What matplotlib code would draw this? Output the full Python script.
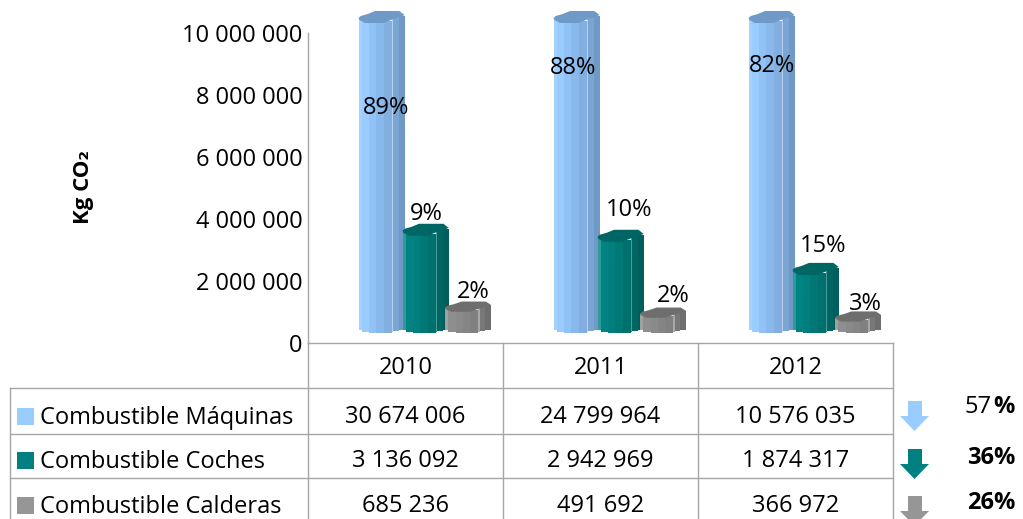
import numpy as np
import matplotlib
matplotlib.use("Agg")
import matplotlib.pyplot as plt
from matplotlib.patches import Polygon, Rectangle

plt.rcParams["font.family"] = ["Open Sans", "DejaVu Sans"]

years = ["2010", "2011", "2012"]
series = ["Combustible Máquinas", "Combustible Coches", "Combustible Calderas"]
maquinas = [30674006, 24799964, 10576035]
coches = [3136092, 2942969, 1874317]
calderas = [685236, 491692, 366972]
shares = [["89%", "88%", "82%"], ["9%", "10%", "15%"], ["2%", "2%", "3%"]]
changes = ["57", "36", "26"]

W, H = 1023, 519
AX_L, AX_R, AX_T, AX_B = 308, 893, 33, 343
YMAX = 10_000_000
GREY = "#a6a6a6"
FS = 17

# strip colours across the width of each column, left to right
strips = [
    ["#a4d2ff", "#9accff", "#90c2f6", "#88b8ec", "#82aee0", "#b4d0ee", "#7ba6d4", "#6f9ac8"],
    ["#2f9a98", "#008483", "#007f7e", "#007876", "#00706e", "#4a9c9a", "#006664", "#005e5c"],
    ["#a0a0a0", "#8e8e8e", "#8a8a8a", "#858585", "#808080", "#a8a8a8", "#787878", "#6e6e6e"],
]
cap_colors = ["#6f9ac8", "#006664", "#6e6e6e"]
strip_w = np.array([0.07, 0.16, 0.16, 0.16, 0.17, 0.03, 0.12, 0.13])
sag_px = [0, 2, 3, 3, 3, 2, 1, 0]
top_px = [4, 3, 2, 2, 2, 4, 6, 7]
# outline of the column top: fraction of width, pixels above the front edge
cap_u = [0, .05, .2, .36, .89, 1, .96, .76, .54, .14, .02]
cap_h = [5, 7, 9, 12, 12, 8, 7, 4, 0, 0, 3]

fig = plt.figure(figsize=(W / 100, H / 100), dpi=100)
ax = fig.add_axes([AX_L / W, 1 - AX_B / H, (AX_R - AX_L) / W, (AX_B - AX_T) / H])
ax.set_xlim(-0.5, 2.5)
ax.set_ylim(0, YMAX)
dv = YMAX / (AX_B - AX_T)
dx = 3 / (AX_R - AX_L)

bar_w = 46 * dx
shift = [-47 * dx, -3 * dx, 39.5 * dx]
for k, vals in enumerate([maquinas, coches, calderas]):
    for i, v in enumerate(vals):
        top = min(v, YMAX)
        left = i + shift[k]
        edges = left + np.concatenate([[0], np.cumsum(strip_w)]) * bar_w
        for j, c in enumerate(strips[k]):
            base = (13 - sag_px[j]) * dv
            ax.bar(edges[j], top + (10 + top_px[j]) * dv - base, width=edges[j + 1] - edges[j], bottom=base,
                   align="edge", color=c, lw=0, clip_on=False)
        cap_x = [left + u * bar_w for u in cap_u]
        scale = 0.85 if k == 2 else 1
        cap_y = [top + (10 + h * scale) * dv for h in cap_h]
        ax.add_patch(Polygon(np.column_stack([cap_x, cap_y]), closed=True, fc=cap_colors[k], lw=0, clip_on=False))

for s in ["top", "right"]:
    ax.spines[s].set_visible(False)
for s in ["left", "bottom"]:
    ax.spines[s].set_color(GREY)
    ax.spines[s].set_linewidth(1.0)
ax.set_xticks([])
yt = np.arange(0, YMAX + 1, 2_000_000)
ax.set_yticks(yt)
ax.set_yticklabels([f"{v:,}".replace(",", " ") for v in yt], fontsize=FS)
ax.tick_params(axis="y", length=0, pad=4, labelcolor="#000000")

# overlay in pixel coordinates for the table and side notes
ov = fig.add_axes([0, 0, 1, 1])
ov.set_xlim(0, W)
ov.set_ylim(H, 0)
ov.axis("off")

for y in [388, 434, 478]:
    ov.plot([10, 893], [y, y], color=GREY, lw=1.0)
for x in [308, 503, 698, 893]:
    ov.plot([x, x], [343, H], color=GREY, lw=1.0)
ov.plot([10, 10], [388, H], color=GREY, lw=1.0)

centers = [405.5, 600.5, 795.5]
for c, yr in zip(centers, years):
    ov.text(c, 368, yr, ha="center", va="center", fontsize=FS)

row_y = [416, 460, 505]
swatch = ["#99ccff", "#008080", "#969696"]
for r, (name, vals) in enumerate(zip(series, [maquinas, coches, calderas])):
    ov.add_patch(Rectangle((17, row_y[r] - 8), 17, 17, fc=swatch[r], lw=0))
    ov.text(40, row_y[r] + 2, name, ha="left", va="center", fontsize=FS)
    for c, v in zip(centers, vals):
        ov.text(c, row_y[r] + 1, f"{v:,}".replace(",", " "), ha="center", va="center", fontsize=FS)

# percentage share labels
label_x = [[386, 573, 772], [426, 629, 823], [473, 673, 865]]
label_y = [[108, 68, 66], [214, 210, 246], [292, 296, 304]]
for k in range(3):
    for i in range(3):
        ov.text(label_x[k][i], label_y[k][i], shares[k][i], ha="center", va="center", fontsize=FS, zorder=5)

ov.text(84, 187, "Kg CO₂", rotation=90, ha="center", va="center", fontsize=16, fontweight="bold")

# change arrows and percentages
arrow_top = [401, 449, 496]
for c, t in zip(swatch, arrow_top):
    pts = [(908, t), (922, t), (922, t + 15), (929, t + 15), (914.5, t + 30), (900, t + 15), (908, t + 15)]
    ov.add_patch(Polygon(pts, closed=True, fc=c, lw=0, clip_on=True))
ov.text(1015, 407, "%", ha="right", va="center", fontsize=FS, fontweight="bold")
ov.text(992, 407, changes[0], ha="right", va="center", fontsize=FS)
ov.text(1015, 458, changes[1] + "%", ha="right", va="center", fontsize=FS, fontweight="bold")
ov.text(1015, 503, changes[2] + "%", ha="right", va="center", fontsize=FS, fontweight="bold")

fig.savefig("out.png", dpi=100)
